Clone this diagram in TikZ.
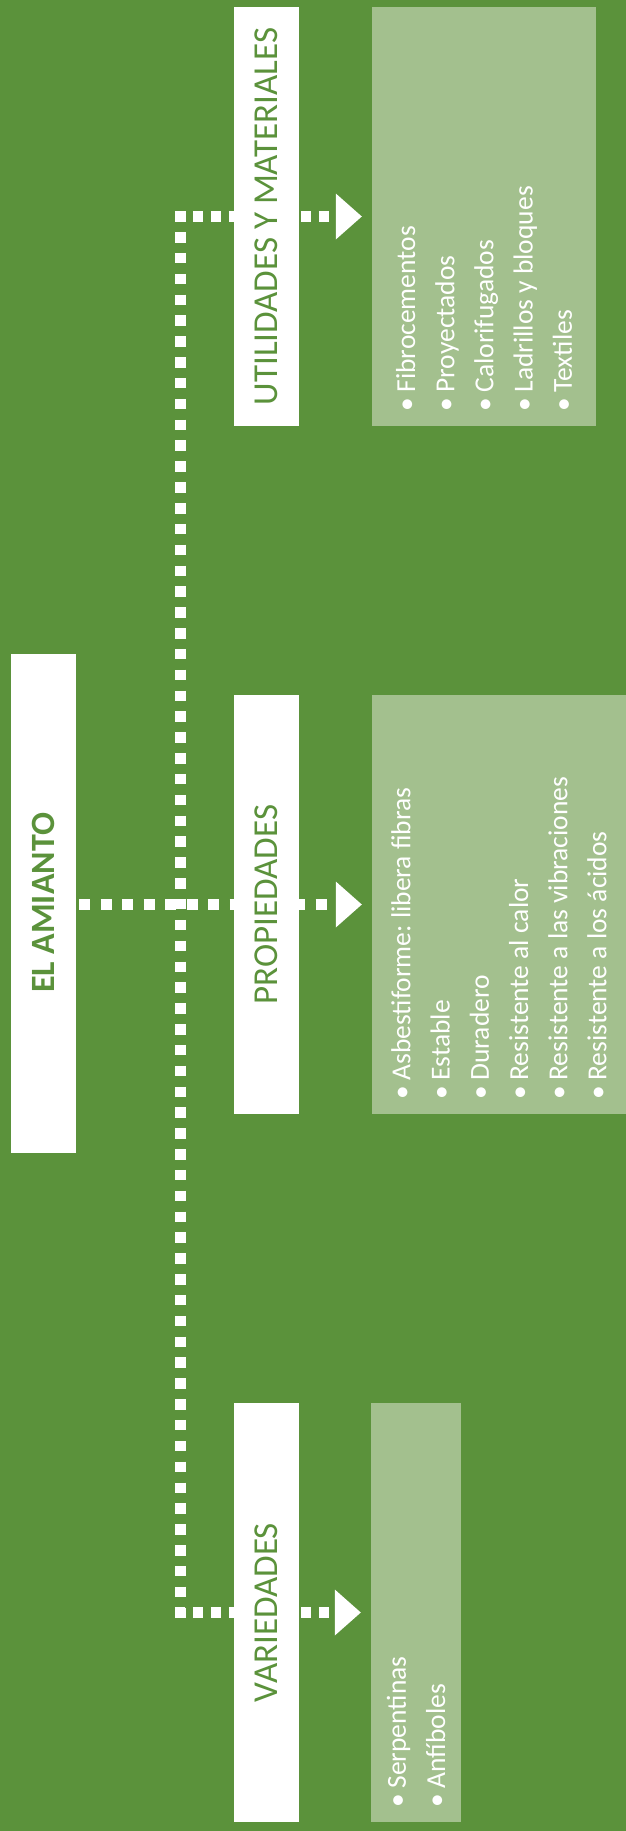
\documentclass[tikz,border=0pt]{standalone}
\usepackage{fontspec}
\setmainfont{Carlito}
\usetikzlibrary{arrows.meta}
\definecolor{bggreen}{RGB}{91,146,59}
\definecolor{lightgreen}{RGB}{163,192,142}
\pgfdeclarelayer{bg}
\pgfdeclarelayer{lines}
\pgfsetlayers{bg,lines,main}
\newcommand\blt{\makebox[18.5pt][l]{•}}
\begin{document}
\begin{tikzpicture}[x=1pt,y=-1pt,
  titlebox/.style={fill=white, text=bggreen, rotate=90, minimum width=419pt,
    minimum height=65pt, inner sep=0pt, font=\fontsize{35}{42}\selectfont},
  amiantobox/.style={titlebox, minimum width=499pt, font=\bfseries\fontsize{34}{40}\selectfont},
  listbox/.style={fill=lightgreen, text=white, rotate=90, minimum width=419pt,
    text width=389pt, inner xsep=15pt, inner ysep=0pt, align=left,
    font=\frenchspacing\fontsize{27.5}{39.2}\selectfont,
    execute at begin node={\spaceskip=0pt\xspaceskip=0pt\relax}},
  tip/.style={-{Triangle[length=26pt,width=46pt,line width=0pt]}},
  dotsmain/.style={draw=white, line width=11pt, dash pattern=on 11pt off 10.5pt},
  dotsvert/.style={draw=white, line width=11pt, dash pattern=on 10.5pt off 10.34pt},
  dotsbranch/.style={draw=white, line width=10.5pt, dash pattern=on 10.5pt off 7.5pt},
]
\useasboundingbox (0,0) rectangle (626,1831);
\begin{pgfonlayer}{bg}
  \fill[bggreen] (0,0) rectangle (626,1831);
\end{pgfonlayer}

% title boxes
\node[amiantobox] (amianto) at (43.5,903) {EL AMIANTO};
\node[titlebox] (util) at (266.5,216.5) {UTILIDADES Y MATERIALES};
\node[titlebox] (prop) at (266.5,904.5) {PROPIEDADES};
\node[titlebox] (var) at (266.5,1612.5) {VARIEDADES};

% list boxes
\node[listbox, minimum height=224pt] (utilL) at (484,216.5)
  {\blt Fibrocementos\\\blt Proyectados\\\blt Calorifugados\\\blt Ladrillos y bloques\\\blt Textiles};
\node[listbox, minimum height=254pt] (propL) at (499,904.5)
  {\blt Asbestiforme: libera fibras\\\blt Estable\\\blt Duradero\\\blt Resistente al calor\\\blt Resistente a las vibraciones\\\blt Resistente a los ácidos};
\node[listbox, minimum height=90pt] (varL) at (416,1612.5)
  {\blt Serpentinas\\\blt Anfíboles};

% junctions
\coordinate (jTop) at (180,216.5);
\coordinate (jBot) at (180,1612.5);

\begin{pgfonlayer}{lines}
  \draw[dotsvert, shorten <=-5.25pt, shorten >=-5.25pt] (jTop) -- (jBot);
  \draw[dotsmain, tip, shorten <=3pt, shorten >=10pt] (amianto.south |- propL.north) -- (propL.north);
  \draw[dotsbranch, tip, shorten <=-5.25pt, shorten >=10pt] (jTop) -- (utilL.north);
  \draw[dotsbranch, tip, shorten <=-5.25pt, shorten >=10pt] (jBot) -- (varL.north);
\end{pgfonlayer}
\end{tikzpicture}
\end{document}
